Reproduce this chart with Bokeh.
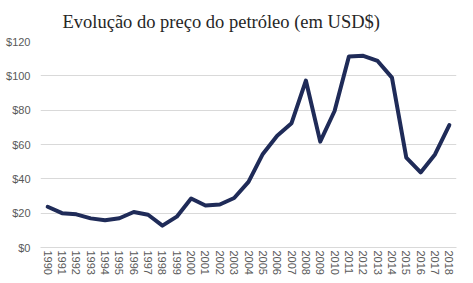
import math
from bokeh.plotting import figure
from bokeh.models import FactorRange, Range1d, NumeralTickFormatter, FixedTicker
from bokeh.embed import file_html
from bokeh.resources import INLINE

years = [str(y) for y in range(1990, 2019)]
prices = [23.73, 20.0, 19.32, 16.97, 15.82, 17.02, 20.67, 19.09, 12.72, 17.97,
          28.5, 24.44, 25.02, 28.83, 38.27, 54.52, 65.14, 72.39, 97.26, 61.67,
          79.5, 111.26, 111.67, 108.66, 98.95, 52.39, 43.73, 54.19, 71.31]
y_ticks = [0, 20, 40, 60, 80, 100, 120]
title_text = "Evolução do preço do petróleo (em USD$)"

p = figure(width=473, height=283, output_backend="svg", toolbar_location=None,
           x_range=FactorRange(*years), y_range=Range1d(0, 120),
           min_border_left=40, min_border_right=17, min_border_top=40, min_border_bottom=36)

p.title.text = title_text
p.title.text_font = "Liberation Serif"
p.title.text_font_size = "18.5px"
p.title.text_font_style = "normal"
p.title.text_color = "#262626"
p.title.align = "left"
p.title.offset = 22
p.title.standoff = 19

p.line(x=years, y=prices, line_color="#1f2b58", line_width=4, line_join="round", line_cap="round")

p.outline_line_color = None
p.xgrid.grid_line_color = None
p.ygrid.grid_line_color = "#d9d9d9"
p.ygrid.grid_line_width = 1

p.yaxis.ticker = FixedTicker(ticks=y_ticks)
p.yaxis.formatter = NumeralTickFormatter(format="$0")
p.yaxis.axis_line_color = None
p.yaxis.major_tick_line_color = None
p.yaxis.minor_tick_line_color = None
p.yaxis.major_tick_out = 0
p.yaxis.major_tick_in = 0
p.yaxis.major_label_standoff = 10
p.yaxis.major_label_text_font = "Liberation Sans"
p.yaxis.major_label_text_font_size = "11px"
p.yaxis.major_label_text_color = "#595959"

p.xaxis.axis_line_color = "#d9d9d9"
p.xaxis.major_tick_line_color = None
p.xaxis.minor_tick_line_color = None
p.xaxis.major_tick_out = 0
p.xaxis.major_tick_in = 0
p.xaxis.axis_label_standoff = 0
p.xaxis.major_label_orientation = "vertical"
p.xaxis.major_label_standoff = 3
p.xaxis.major_label_text_font = "Liberation Sans"
p.xaxis.major_label_text_font_size = "11px"
p.xaxis.major_label_text_color = "#595959"

open("out.html", "w").write(file_html(p, INLINE))
